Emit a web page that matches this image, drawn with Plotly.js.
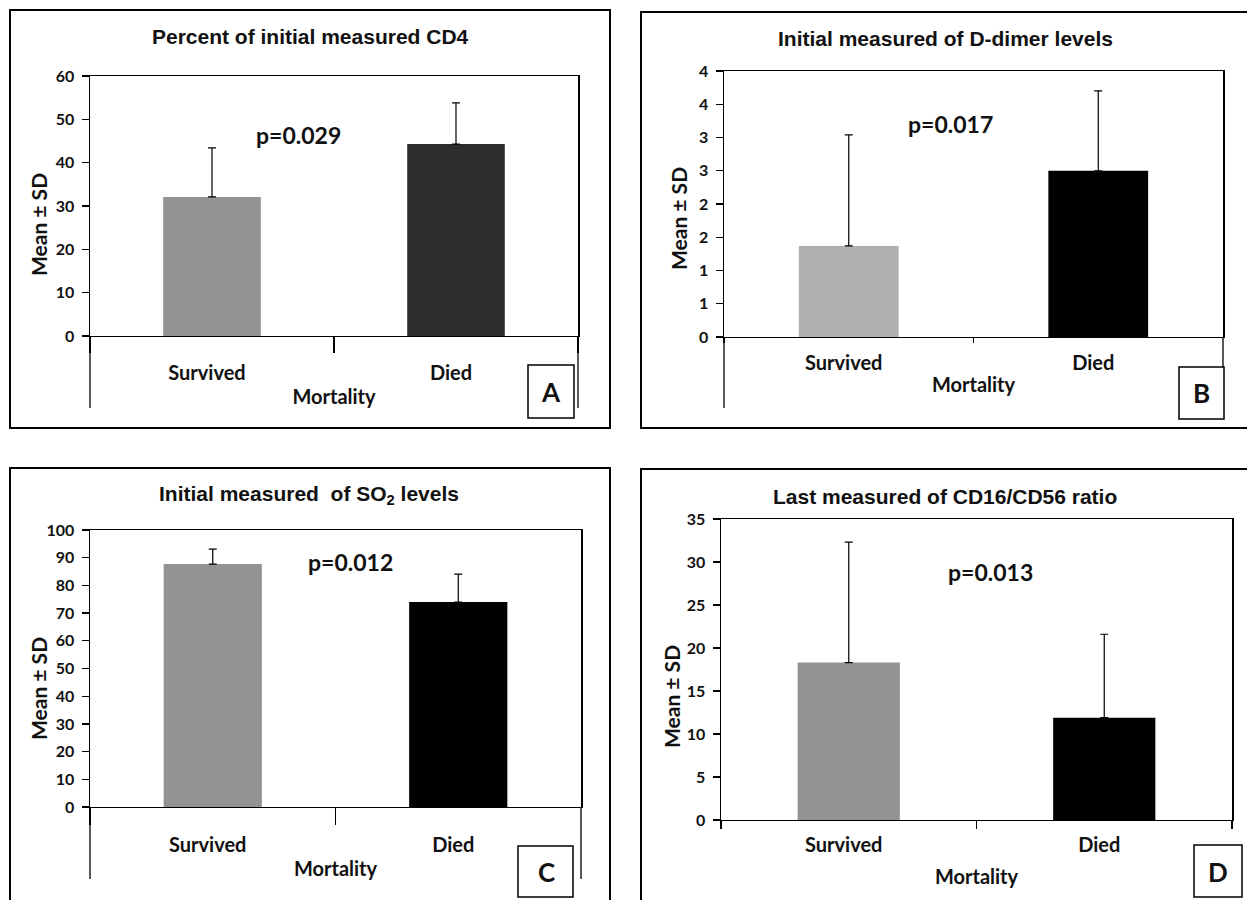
<!DOCTYPE html>
<html>
<head>
<meta charset="utf-8">
<script src="https://cdn.plot.ly/plotly-3.0.1.min.js"></script>
<style>html,body{margin:0;padding:0;background:#fff;}#chart{width:1247px;height:900px;}</style>
</head>
<body>
<div id="chart"></div>
<script>
// ---- data ----
const categories = ['Survived', 'Died'];

const titleA = 'Percent of initial measured CD4';
const meansA = [32.1, 44.3];
const sdA = [11.3, 9.5];
const colorsA = ['#939393', '#2d2d2d'];
const pA = 'p=0.029';

const titleB = 'Initial measured of D-dimer levels';
const meansB = [1.37, 2.50];
const sdB = [1.67, 1.20];
const colorsB = ['#b0b0b0', '#000000'];
const pB = 'p=0.017';
const tickValsB = [0, 0.5, 1, 1.5, 2, 2.5, 3, 3.5, 4];
const tickTextB = ['0', '1', '1', '2', '2', '3', '3', '4', '4'];

const titleC = 'Initial measured  of SO<sub>2</sub> levels';
const meansC = [87.7, 74.0];
const sdC = [5.4, 10.1];
const colorsC = ['#939393', '#000000'];
const pC = 'p=0.012';

const titleD = 'Last measured of CD16/CD56 ratio';
const meansD = [18.3, 11.9];
const sdD = [14.0, 9.7];
const colorsD = ['#939393', '#000000'];
const pD = 'p=0.013';

const xTitle = 'Mortality';
const yTitle = 'Mean ± SD';
const panelLetters = ['A', 'B', 'C', 'D'];

// ---- helpers ----
const W = 1247, H = 900;
const px = v => v / W;
const py = v => 1 - v / H;
const FAM = 'Lato, "Open Sans", sans-serif';
const tickFont = {family: FAM, size: 16, color: '#111', weight: 'bold'};
const catFont = {family: FAM, size: 20, color: '#111', weight: 'bold'};
const yTitleFont = {family: FAM, size: 21, color: '#111', weight: 'bold'};

function barTrace(means, sd, colors, ax) {
  return {
    type: 'bar', x: categories, y: means,
    xaxis: 'x' + ax, yaxis: 'y' + ax,
    marker: {color: colors, line: {width: 0}},
    error_y: {type: 'data', symmetric: false, array: sd, arrayminus: sd.map(() => 0),
              color: '#000', thickness: 1.2, width: 4},
    showlegend: false, hoverinfo: 'x+y'
  };
}

function xAxis(domain, anchor, ticklen, standoff, titleStandoff) {
  return {
    domain: domain, anchor: anchor, type: 'category',
    range: [-0.5, 1.5], tickson: 'boundaries', ticks: 'outside', ticklen: ticklen,
    tickcolor: '#000', tickwidth: 1.3,
    showline: true, linecolor: '#000', linewidth: 1.3, mirror: true,
    showgrid: false, zeroline: false, tickfont: catFont, ticklabelstandoff: standoff,
    ticklabelshift: -5,
    title: {text: xTitle, font: catFont, standoff: titleStandoff}, fixedrange: true
  };
}

function yAxis(domain, anchor, range, dtick, extra) {
  return Object.assign({
    domain: domain, anchor: anchor, range: range, dtick: dtick,
    ticks: 'outside', ticklen: 7, tickcolor: '#000', tickwidth: 1.3,
    showline: true, linecolor: '#000', linewidth: 1.5, mirror: true,
    showgrid: false, zeroline: false, tickfont: tickFont, ticklabelstandoff: 4,
    fixedrange: true
  }, extra || {});
}

const traces = [
  barTrace(meansA, sdA, colorsA, ''),
  barTrace(meansB, sdB, colorsB, '2'),
  barTrace(meansC, sdC, colorsC, '3'),
  barTrace(meansD, sdD, colorsD, '4')
];
traces[0].xaxis = 'x'; traces[0].yaxis = 'y';

// plot-area domains
const domA = {x: [px(90), px(578)], y: [py(336), py(76)]};
const domB = {x: [px(724), px(1223)], y: [py(337), py(71)]};
const domC = {x: [px(90), px(581)], y: [py(807), py(530)]};
const domD = {x: [px(721), px(1232)], y: [py(820), py(519)]};

const titleFont = {family: '"Liberation Sans", Arial, sans-serif', size: 21, color: '#111', weight: 'bold'};
const pFont = {family: FAM, size: 23, color: '#111', weight: 'bold'};
const letterFont = {family: FAM, size: 26, color: '#111', weight: 'bold'};

function ann(text, x, y, font, angle) {
  return {text: text, xref: 'paper', yref: 'paper', x: px(x), y: py(y), textangle: angle || 0,
          xanchor: 'center', yanchor: 'middle', showarrow: false, font: font};
}

const annotations = [
  ann(titleA, 310, 37, titleFont),
  ann(titleB, 945, 38, titleFont),
  ann(titleC, 309, 495, titleFont),
  ann(titleD, 945, 497, titleFont),
  ann(yTitle, 38, 225, yTitleFont, -90),
  ann(yTitle, 678, 219, yTitleFont, -90),
  ann(yTitle, 38, 689, yTitleFont, -90),
  ann(yTitle, 671, 697, yTitleFont, -90),
  ann(pA, 298, 135, pFont),
  ann(pB, 950, 124, pFont),
  ann(pC, 350, 562, pFont),
  ann(pD, 990, 572, pFont),
  ann(panelLetters[0], 551, 392, letterFont),
  ann(panelLetters[1], 1201.5, 393, letterFont),
  ann(panelLetters[2], 546, 872, letterFont),
  ann(panelLetters[3], 1218, 872, letterFont)
];

function rect(x0, y0, x1, y1, w) {
  return {type: 'rect', xref: 'paper', yref: 'paper', x0: px(x0), x1: px(x1), y0: py(y0), y1: py(y1),
          line: {color: '#000', width: w}, fillcolor: 'rgba(0,0,0,0)', layer: 'above'};
}
function vline(x, y0, y1) {
  return {type: 'line', xref: 'paper', yref: 'paper', x0: px(x), x1: px(x), y0: py(y0), y1: py(y1),
          line: {color: '#000', width: 1.3}, layer: 'above'};
}

const shapes = [
  // outer panel frames
  rect(10, 10, 610, 428, 2),
  rect(641, 12, 1252, 428, 2),
  rect(10, 468, 610, 905, 2),
  rect(641, 469, 1252, 905, 2),
  // panel letter boxes
  rect(528, 365, 574, 418, 1.5),
  rect(1179, 367, 1224, 419, 1.5),
  rect(518, 846, 573, 897, 1.5),
  rect(1194, 845, 1242, 897, 1.5),
  // axis lines continuing below the zero line
  vline(90, 336, 408), vline(578, 336, 408),
  vline(724, 337, 408), vline(1223, 337, 367),
  vline(90, 807, 879), vline(581, 807, 879)
];

const layout = {
  width: W, height: H, margin: {l: 0, r: 0, t: 0, b: 0},
  paper_bgcolor: '#fff', plot_bgcolor: '#fff', bargap: 0.6, showlegend: false,
  font: {family: FAM, color: '#111'},
  xaxis: xAxis(domA.x, 'y', 16, 19, 6),
  yaxis: yAxis(domA.y, 'x', [0, 60], 10),
  xaxis2: xAxis(domB.x, 'y2', 5, 8, 4),
  yaxis2: yAxis(domB.y, 'x2', [0, 4], null, {tickmode: 'array', tickvals: tickValsB, ticktext: tickTextB}),
  xaxis3: xAxis(domC.x, 'y3', 17, 20, 6),
  yaxis3: yAxis(domC.y, 'x3', [0, 100], 10),
  xaxis4: xAxis(domD.x, 'y4', 8, 7, 14),
  yaxis4: yAxis(domD.y, 'x4', [0, 35], 5),
  annotations: annotations,
  shapes: shapes
};

Plotly.newPlot('chart', traces, layout, {displayModeBar: false, staticPlot: true});
</script>
</body>
</html>
